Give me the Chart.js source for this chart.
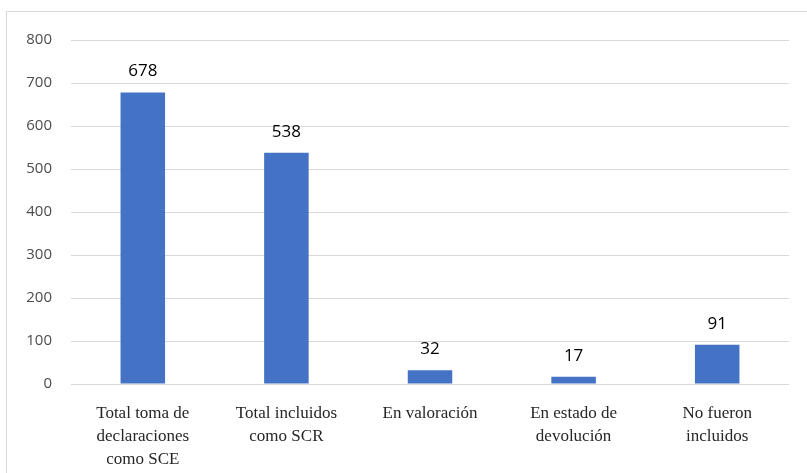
<!DOCTYPE html>
<html>
<head>
<meta charset="utf-8">
<script src="https://cdn.jsdelivr.net/npm/chart.js@4.4.0/dist/chart.umd.min.js"></script>
<style>
  html, body { margin: 0; padding: 0; background: #fff; }
  #wrap { position: relative; width: 807px; height: 473px; }
  #frame { position: absolute; left: 6px; top: 11px; width: 810px; height: 480px; border: 1px solid #d9d9d9; }
  canvas { position: absolute; left: 0; top: 0; }
</style>
</head>
<body>
<div id="wrap">
  <div id="frame"></div>
  <canvas id="chart_div" width="807" height="473"></canvas>
</div>
<script>
const categories = [
  ['Total toma de', 'declaraciones', 'como SCE'],
  ['Total incluidos', 'como SCR'],
  ['En valoración'],
  ['En estado de', 'devolución'],
  ['No fueron', 'incluidos']
];
const values = [678, 538, 32, 17, 91];
const yTicks = [0, 100, 200, 300, 400, 500, 600, 700, 800];

const barLabels = {
  id: 'barLabels',
  afterDatasetsDraw(chart) {
    const c = chart.ctx;
    const meta = chart.getDatasetMeta(0);
    c.save();
    c.font = '17px "Open Sans", sans-serif';
    c.fillStyle = '#000';
    c.textAlign = 'center';
    c.textBaseline = 'middle';
    meta.data.forEach((bar, i) => {
      c.fillText(values[i], bar.x, bar.y - 21);
    });
    c.restore();
  }
};

const ctx = document.getElementById('chart_div');
new Chart(ctx, {
  type: 'bar',
  data: {
    labels: categories,
    datasets: [{
      data: values,
      backgroundColor: '#4472C4',
      barPercentage: 0.31,
      categoryPercentage: 1
    }]
  },
  options: {
    responsive: false,
    animation: false,
    layout: { padding: { top: 40, right: 18, left: 0, bottom: 0 } },
    plugins: { legend: { display: false }, tooltip: { enabled: false } },
    scales: {
      y: {
        min: 0,
        max: 800,
        afterBuildTicks: (s) => { s.ticks = yTicks.map(v => ({ value: v })); },
        afterFit: (s) => { s.width = 71; },
        border: { display: false },
        grid: { color: '#d9d9d9', drawTicks: false },
        ticks: {
          padding: 19,
          color: '#4d4d4d',
          font: { family: '"Open Sans", sans-serif', size: 15 }
        }
      },
      x: {
        afterFit: (s) => { s.height = 89; },
        border: { display: false },
        grid: { display: false },
        ticks: {
          padding: 10,
          color: '#262626',
          maxRotation: 0,
          autoSkip: false,
          font: { family: '"Liberation Serif", "Times New Roman", serif', size: 17, lineHeight: 1.35 }
        }
      }
    }
  },
  plugins: [barLabels]
});
</script>
</body>
</html>
